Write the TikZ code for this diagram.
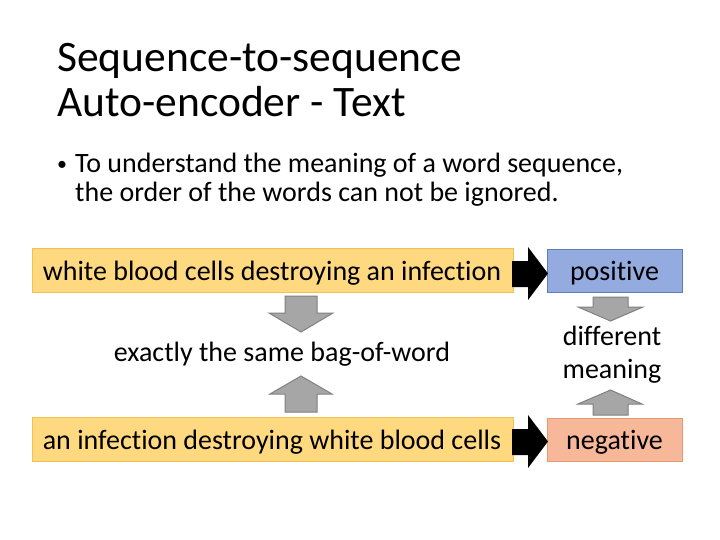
\documentclass[tikz,border=0pt]{standalone}
\usepackage{fontspec}
\setmainfont[Ligatures=NoCommon]{Carlito}
\definecolor{yel}{HTML}{FFD97F}
\definecolor{yelb}{HTML}{F2C14E}
\definecolor{blu}{HTML}{93ABDE}
\definecolor{blub}{HTML}{5B7EBE}
\definecolor{sal}{HTML}{F6B898}
\definecolor{salb}{HTML}{E69A72}
\definecolor{gar}{HTML}{A6A6A6}
\definecolor{garb}{HTML}{808080}
\begin{document}
\begin{tikzpicture}[x=1pt,y=-1pt,
  box/.style={draw=#1, line width=0.8pt, inner sep=0pt},
  txt/.style={font=\fontsize{28}{32}\selectfont, inner sep=0pt},
  garrow/.style={fill=gar, draw=garb, line width=1pt},
  barrow/.style={fill=black}]
\useasboundingbox (0,0) rectangle (720,540);
% title
\node[anchor=base west, inner sep=0pt, font=\fontsize{43.5}{45}\selectfont] (t1) at (57,72) {Sequence-to-sequence};
\node[anchor=base west, inner sep=0pt, font=\fontsize{43.5}{45}\selectfont] (t2) at (57,117) {Auto-encoder - Text};
% bullet
\node[anchor=base west, inner sep=0pt, font=\fontsize{20}{24}\selectfont] (b0) at (57,171) {•};
\node[anchor=base west, txt] (b1) at (75,173) {To understand the meaning of a word sequence,};
\node[anchor=base west, txt] (b2) at (75,202) {the order of the words can not be ignored.};
% boxes
\path[box=yelb, fill=yel] (32,248) rectangle (513,292);
\node[txt, anchor=base] (s1) at (272,280) {white blood cells destroying an infection};
\path[box=yelb, fill=yel] (32,417) rectangle (513,461);
\node[txt, anchor=base] (s2) at (272,449) {an infection destroying white blood cells};
\path[box=blub, fill=blu] (547,249) rectangle (682,292);
\node[txt, anchor=base] (p) at (614.5,280) {positive};
\path[box=salb, fill=sal] (547,418) rectangle (682,461);
\node[txt, anchor=base] (n) at (614.5,449) {negative};
% middle texts
\node[txt, anchor=base] (same) at (282,361) {exactly the same bag-of-word};
\node[txt, anchor=base] (d1) at (612,345) {different};
\node[txt, anchor=base] (d2) at (612,378) {meaning};
% black arrows
\path[barrow] (512,261) -- (528,261) -- (528,247) -- (548,273.5) -- (528,300) -- (528,287) -- (512,287) -- cycle;
\path[barrow] (512,429) -- (528,429) -- (528,415) -- (548,441.5) -- (528,468) -- (528,455) -- (512,455) -- cycle;
% gray arrows middle
\path[garrow] (285,296) -- (317,296) -- (317,313) -- (333,313) -- (301,332) -- (269,313) -- (285,313) -- cycle;
\path[garrow] (285,412) -- (317,412) -- (317,394) -- (332,394) -- (301,376) -- (270,394) -- (285,394) -- cycle;
% gray arrows right
\path[garrow] (593,297) -- (628,297) -- (628,307) -- (643,307) -- (610.5,321) -- (578,307) -- (593,307) -- cycle;
\path[garrow] (593,415) -- (628,415) -- (628,404) -- (642,404) -- (610.5,390) -- (578,404) -- (593,404) -- cycle;
\end{tikzpicture}
\end{document}
